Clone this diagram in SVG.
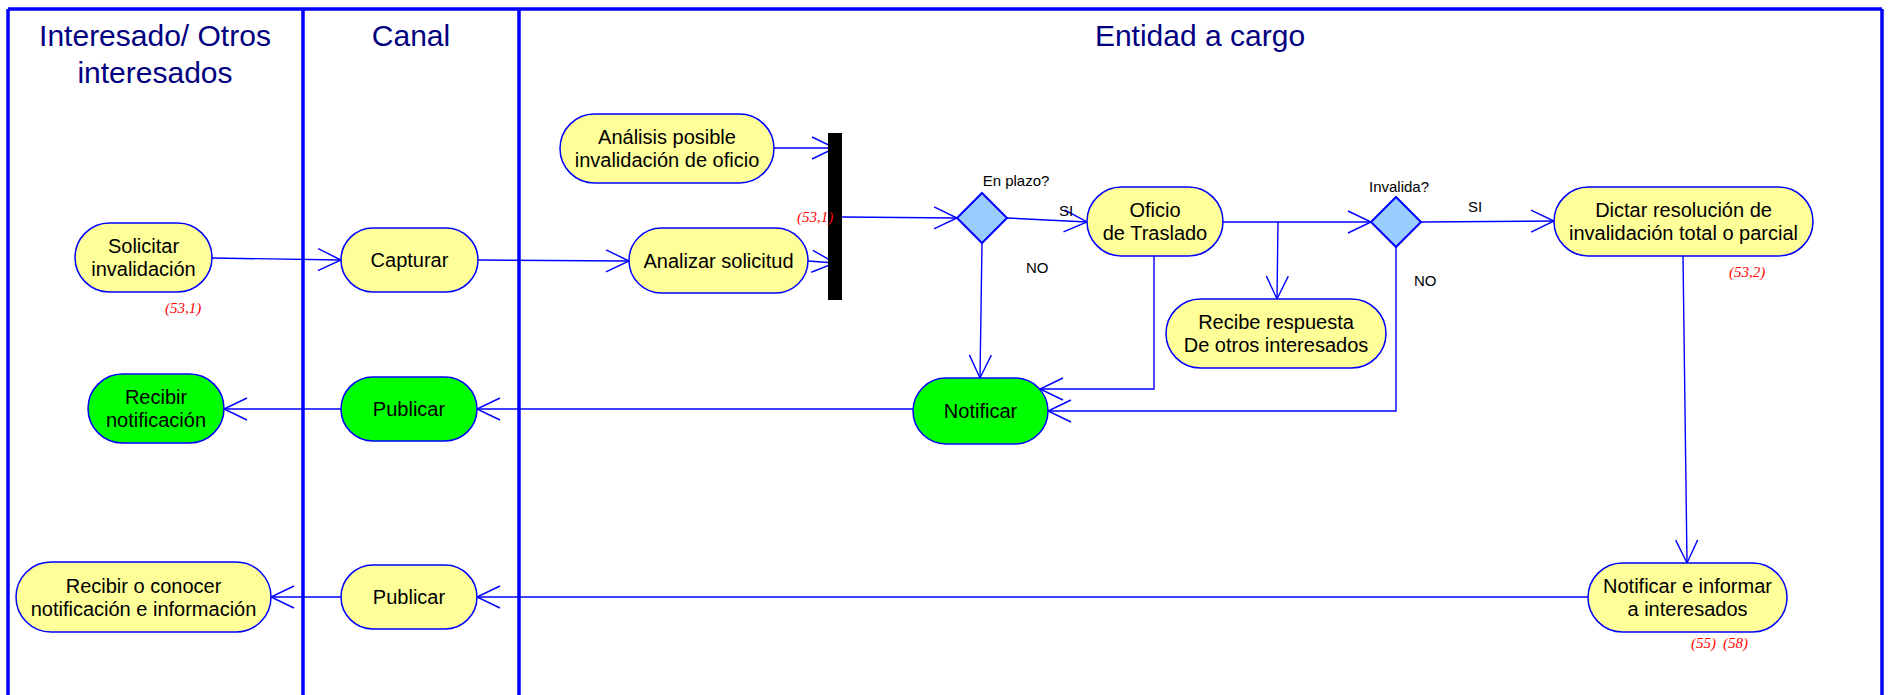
<svg xmlns="http://www.w3.org/2000/svg" width="1893" height="695" viewBox="0 0 1893 695">
<style>
.lane{stroke:#0000ff;stroke-width:3.5;fill:none}
.title{font-family:"Liberation Sans",Arial,sans-serif;font-size:30px;fill:#000080;text-anchor:middle}
.node{stroke:#0000ff;stroke-width:1.5}
.y{fill:#ffff99}
.g{fill:#00ff00}
.dia{fill:#99ccff;stroke:#0000ff;stroke-width:2}
.t{font-family:"Liberation Sans",Arial,sans-serif;font-size:20px;fill:#000;text-anchor:middle}
.lbl{font-family:"Liberation Sans",Arial,sans-serif;font-size:15px;fill:#000}
.ref{font-family:"Liberation Serif","Times New Roman",serif;font-style:italic;font-size:15px;fill:#ff0000}
.c{stroke:#0000ff;stroke-width:1.4;fill:none;marker-end:url(#arr)}
</style>
<defs>
<marker id="arr" markerUnits="userSpaceOnUse" markerWidth="30" markerHeight="30" viewBox="-25 -15 30 30" refX="0" refY="0" orient="auto" overflow="visible">
<path d="M-23,-11 L0,0 L-23,11" fill="none" stroke="#0000ff" stroke-width="1.4"/>
</marker>
</defs>
<rect width="1893" height="695" fill="#ffffff"/>
<g id="lanes">
<line class="lane" x1="8" y1="9" x2="1882" y2="9"/>
<line class="lane" x1="8" y1="9" x2="8" y2="695"/>
<line class="lane" x1="303" y1="9" x2="303" y2="695"/>
<line class="lane" x1="519" y1="9" x2="519" y2="695"/>
<line class="lane" x1="1882" y1="9" x2="1882" y2="695"/>
<text class="title" x="155" y="46">Interesado/ Otros</text>
<text class="title" x="155" y="83">interesados</text>
<text class="title" x="411" y="46">Canal</text>
<text class="title" x="1200" y="46">Entidad a cargo</text>
</g>
<g id="connectors">
<line class="c" x1="212" y1="258" x2="341" y2="260"/>
<line class="c" x1="478" y1="260" x2="629" y2="261"/>
<line class="c" x1="774" y1="148" x2="835" y2="148"/>
<line class="c" x1="808" y1="261" x2="835" y2="263"/>
<line class="c" x1="842" y1="217" x2="957" y2="218"/>
<line class="c" x1="1007" y1="218" x2="1087" y2="222"/>
<line class="c" x1="982" y1="243" x2="980" y2="378"/>
<line class="c" x1="1223" y1="222" x2="1371" y2="222"/>
<line class="c" x1="1278" y1="222" x2="1277" y2="299"/>
<polyline class="c" points="1154,256 1154,389 1040,389"/>
<polyline class="c" points="1396,247 1396,411 1048,411"/>
<line class="c" x1="1421" y1="222" x2="1554" y2="221"/>
<line class="c" x1="1683" y1="256" x2="1687" y2="563"/>
<line class="c" x1="913" y1="409" x2="477" y2="409"/>
<line class="c" x1="341" y1="409" x2="224" y2="409"/>
<line class="c" x1="1588" y1="597" x2="477" y2="597"/>
<line class="c" x1="341" y1="597" x2="271" y2="597"/>
</g>
<g id="n-solicitar">
<rect class="node y" x="75" y="223" width="137" height="69" rx="34.5"/>
<text class="t" x="143.5" y="253">Solicitar</text>
<text class="t" x="143.5" y="276">invalidación</text>
<text class="ref" x="165" y="313">(53,1)</text>
</g>
<g id="n-capturar">
<rect class="node y" x="341" y="228" width="137" height="64" rx="32"/>
<text class="t" x="409.5" y="267">Capturar</text>
</g>
<g id="n-analisis">
<rect class="node y" x="560" y="114" width="214" height="69" rx="34.5"/>
<text class="t" x="667" y="144">Análisis posible</text>
<text class="t" x="667" y="167">invalidación de oficio</text>
</g>
<g id="n-analizar">
<rect class="node y" x="629" y="228" width="179" height="65" rx="32.5"/>
<text class="t" x="718.5" y="267.5">Analizar solicitud</text>
</g>
<g id="n-bar">
<rect x="828" y="133" width="14" height="167" fill="#000000"/>
<text class="ref" x="797" y="222">(53,1)</text>
</g>
<g id="n-enplazo">
<polygon class="dia" points="982,193 1007,218 982,243 957,218"/>
<text class="lbl" x="1016" y="186" text-anchor="middle">En plazo?</text>
<text class="lbl" x="1059" y="216">SI</text>
<text class="lbl" x="1026" y="273">NO</text>
</g>
<g id="n-oficio">
<rect class="node y" x="1087" y="187" width="136" height="69" rx="34.5"/>
<text class="t" x="1155" y="217">Oficio</text>
<text class="t" x="1155" y="240">de Traslado</text>
</g>
<g id="n-recibe">
<rect class="node y" x="1166" y="299" width="220" height="69" rx="34.5"/>
<text class="t" x="1276" y="329">Recibe respuesta</text>
<text class="t" x="1276" y="352">De otros interesados</text>
</g>
<g id="n-invalida">
<polygon class="dia" points="1396,197 1421,222 1396,247 1371,222"/>
<text class="lbl" x="1399" y="192" text-anchor="middle">Invalida?</text>
<text class="lbl" x="1468" y="212">SI</text>
<text class="lbl" x="1414" y="286">NO</text>
</g>
<g id="n-dictar">
<rect class="node y" x="1554" y="187" width="259" height="69" rx="34.5"/>
<text class="t" x="1683.5" y="217">Dictar resolución de</text>
<text class="t" x="1683.5" y="240">invalidación total o parcial</text>
<text class="ref" x="1729" y="277">(53,2)</text>
</g>
<g id="n-notificar">
<rect class="node g" x="913" y="378" width="135" height="66" rx="33"/>
<text class="t" x="980.5" y="418">Notificar</text>
</g>
<g id="n-publicar1">
<rect class="node g" x="341" y="377" width="136" height="64" rx="32"/>
<text class="t" x="409" y="416">Publicar</text>
</g>
<g id="n-recibir-notif">
<rect class="node g" x="88" y="374" width="136" height="69" rx="34.5"/>
<text class="t" x="156" y="404">Recibir</text>
<text class="t" x="156" y="427">notificación</text>
</g>
<g id="n-notificar-informar">
<rect class="node y" x="1588" y="563" width="199" height="69" rx="34.5"/>
<text class="t" x="1687.5" y="593">Notificar e informar</text>
<text class="t" x="1687.5" y="616">a interesados</text>
<text class="ref" y="648"><tspan x="1691">(55)</tspan><tspan x="1723">(58)</tspan></text>
</g>
<g id="n-publicar2">
<rect class="node y" x="341" y="565" width="136" height="64" rx="32"/>
<text class="t" x="409" y="604">Publicar</text>
</g>
<g id="n-recibir-conocer">
<rect class="node y" x="16" y="562" width="255" height="70" rx="35"/>
<text class="t" x="143.5" y="592.5">Recibir o conocer</text>
<text class="t" x="143.5" y="615.5">notificación e información</text>
</g>
</svg>
